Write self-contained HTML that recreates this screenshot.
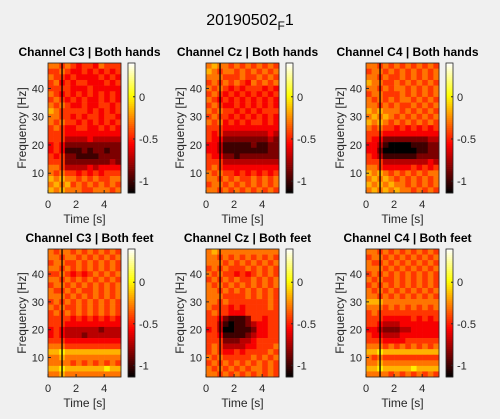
<!DOCTYPE html>
<html><head><meta charset="utf-8"><style>
body{margin:0;background:#f0f0f0;}
svg{display:block;font-family:"Liberation Sans",sans-serif;}
</style></head><body>
<svg id="fig" width="500" height="419" viewBox="0 0 500 419">
<rect width="500" height="419" fill="#f0f0f0"/>
<text x="250" y="25" text-anchor="middle" font-size="16" fill="#000">20190502<tspan font-size="12" dy="5">F</tspan><tspan dy="-5">1</tspan></text>
</svg>
<script>
// Data: rows top (48 Hz) to bottom (4 Hz), 13 time bins of 0.4 s; digit d -> value = -1.14 + d*0.14
const freqs = [48,46,44,42,40,38,36,34,32,30,28,26,24,22,20,18,16,14,12,10,8,6,4];
const times = [0,0.4,0.8,1.2,1.6,2.0,2.4,2.8,3.2,3.6,4.0,4.4,4.8];
const xTicks = [0,2,4];
const yTicks = [10,20,30,40];
const cbTicks = [0,-0.5,-1];
const titles = ["Channel C3 | Both hands","Channel Cz | Both hands","Channel C4 | Both hands","Channel C3 | Both feet","Channel Cz | Both feet","Channel C4 | Both feet"];
const dataC3Hands = ["6656545546555","5565445454545","6554544445454","5645455444545","5555444544444","6545454545454","5654545445454","6565445445545","7655555454545","6655454554554","6565545454545","5654455445454","5554444444444","5553333433333","4542222222222","4541112122122","5452211112222","5552222222232","6653333434444","6565545454555","7676656565566","6767565656565","7676665566656"];
const dataCzHands = ["6766565656565","7656656565656","6665556556565","5656565465656","6565454555454","5654545454545","6545454545454","5654454545454","6565545454555","5655454545454","6564545455454","5554444444444","5453333333343","5442222222232","4431111121122","4431111111122","5442212222222","5553333333333","5654444444444","6565545454545","6656565565656","5665656565656","6656565656565"];
const dataC4Hands = ["6656565656565","5665656565656","6656556565656","7665565656565","6656566565656","5665556565656","6565656656565","6656565565656","7676665656565","6767656565656","7676565656565","6565545454545","5554444444444","5442222222233","4431000011122","4420000001122","5431111112222","5553333333343","6654444454545","7676565656566","6767656565656","7676766565656","6767676656565"];
const dataC3Feet = ["6566565656565","6656656565656","5665565656565","6656565656565","5565454565656","6656565656565","5665656565656","6556565565656","6665656565656","5656565656565","6565565656565","5656565656565","5555454545454","5554444444444","4543333332333","4543332333333","5554444444444","6665555555555","7787777777777","6676666666666","6666565656565","7787777777877","6676666666666"];
const dataCzFeet = ["6766666666666","6656565656565","6665656565656","5656555656565","6565545456565","5656565565656","6565656565656","6656565656565","6665555656565","6656555555565","6555454555565","5655444555555","5542111255455","5531011234455","4530011124455","5541111234455","5552223345555","5653333445556","5654454555565","6565555565656","5656565656565","6565656566565","6656565656565"];
const dataC4Feet = ["6656565656565","5665656565656","6556565656565","6665656565656","5656565656565","6565565656565","5656565656565","6565656565656","6656565656565","7776666666666","6665656565656","5655555555555","5554444454545","5543334444444","4432223344444","5443334444444","5554444555555","6665656565656","7787777777777","6565555555555","6676666666666","7787777787777","6666565656565"];
const allData = [dataC3Hands,dataCzHands,dataC4Hands,dataC3Feet,dataCzFeet,dataC4Feet];

const NS="http://www.w3.org/2000/svg";
const svg=document.getElementById('fig');
const colLefts=[48,206,366];
const rowTops=[63,249];
const rowH=[130,128];
const W=73, tMax=5.2, fMin=3, fMax=49, vMin=-1.14, vMax=0.4;
function mk(tag,attrs,parent){const e=document.createElementNS(NS,tag);for(const k in attrs)e.setAttribute(k,attrs[k]);(parent||svg).appendChild(e);return e;}
function hot(v){let n=(v-vMin)/(vMax-vMin);n=Math.max(0,Math.min(1,n));
 const r=Math.min(1,n/0.375),g=Math.max(0,Math.min(1,(n-0.375)/0.375)),b=Math.max(0,Math.min(1,(n-0.75)/0.25));
 return `rgb(${Math.round(r*255)},${Math.round(g*255)},${Math.round(b*255)})`;}
function val(d){return -1.14+parseInt(d)*0.14;}
for(let i=0;i<6;i++){
 const L=colLefts[i%3], T=rowTops[Math.floor(i/3)], H=rowH[Math.floor(i/3)];
 const xS=t=>L+t/tMax*W, yS=f=>T+H-(f-fMin)/(fMax-fMin)*H;
 const g=mk('g',{});
 
 
 const data=allData[i];
 for(let r=0;r<freqs.length;r++){for(let c=0;c<times.length;c++){
  const x0=xS(times[c]), x1=xS(times[c]+0.4), y0=yS(freqs[r]+1), y1=yS(freqs[r]-1);
  const cell=mk('rect',{x:x0,y:y0,width:x1-x0+0.3,height:y1-y0+0.3,fill:hot(val(data[r][c]))},g);
  
  
 }}
 const ln=mk('line',{x1:xS(1),x2:xS(1),y1:T,y2:T+H,stroke:'#000','stroke-width':1.3},g);
 
 
 mk('rect',{x:L,y:T,width:W,height:H,fill:'none',stroke:'#262626','stroke-width':0.8},g);
 const tt=mk('text',{x:L+W/2+5,y:T-7,'text-anchor':'middle','font-size':12,'font-weight':'bold',fill:'#000'},g);
 tt.textContent=titles[i];
 
 
 xTicks.forEach(t=>{const x=xS(t);mk('line',{x1:x,x2:x,y1:T+H,y2:T+H-3,stroke:'#262626'},g);
  const tx=mk('text',{x:x,y:T+H+15,'text-anchor':'middle','font-size':11,fill:'#262626'},g);tx.textContent=t;
  
  });
 yTicks.forEach(f=>{const y=yS(f);mk('line',{x1:L,x2:L+3,y1:y,y2:y,stroke:'#262626'},g);
  const ty=mk('text',{x:L-4,y:y+4,'text-anchor':'end','font-size':11,fill:'#262626'},g);ty.textContent=f;
  
  });
 const xl=mk('text',{x:L+W/2,y:T+H+30,'text-anchor':'middle','font-size':12,fill:'#262626'},g);xl.textContent='Time [s]';
 
 
 const yl=mk('text',{x:0,y:0,'text-anchor':'middle','font-size':12,fill:'#262626',transform:`translate(${L-22},${T+H/2}) rotate(-90)`},g);yl.textContent='Frequency [Hz]';
 
 
 const cx=L+W+7, cw=7;
 const cb=mk('g',{},g);
 
 
 const steps=64;
 for(let k=0;k<steps;k++){const v=vMax-(k+0.5)*(vMax-vMin)/steps;
  mk('rect',{x:cx,y:T+k*H/steps,width:cw,height:H/steps+0.3,fill:hot(v)},cb);}
 mk('rect',{x:cx,y:T,width:cw,height:H,fill:'none',stroke:'#262626','stroke-width':0.8},cb);
 const cS=v=>T+(vMax-v)/(vMax-vMin)*H;
 cbTicks.forEach(v=>{const y=cS(v);mk('line',{x1:cx+cw-2,x2:cx+cw,y1:y,y2:y,stroke:'#262626'},cb);
  const ct=mk('text',{x:cx+cw+4,y:y+4,'font-size':11,fill:'#262626'},cb);ct.textContent=v;
  
  });
}
</script>
</body></html>
